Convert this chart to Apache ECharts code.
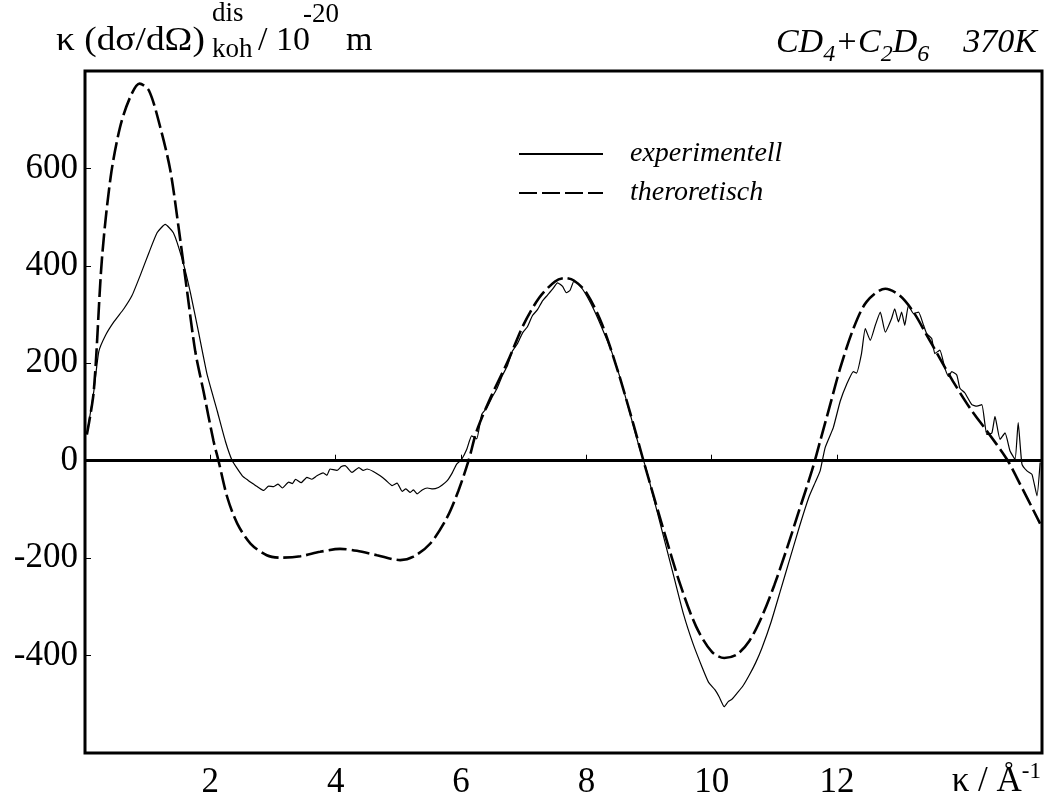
<!DOCTYPE html>
<html>
<head>
<meta charset="utf-8">
<script src="https://cdn.jsdelivr.net/npm/echarts@6/dist/echarts.min.js"></script>
<style>
  html, body { margin: 0; padding: 0; background: #fff; }
  #chart { width: 1047px; height: 800px; }
</style>
</head>
<body>
<div id="chart"></div>
<script>
// Scattering wave vector κ (Å^-1)
const kExp = [0.03, 0.14, 0.22, 0.33, 0.46, 0.62, 0.75, 0.88, 1.02, 1.15, 1.28, 1.41, 1.55, 1.68, 1.81, 1.95, 2.11, 2.24, 2.35,
  2.51, 2.60, 2.69, 2.77, 2.85, 2.93, 3.01, 3.08, 3.15, 3.25, 3.31, 3.36, 3.45, 3.54, 3.62, 3.70, 3.80, 3.86, 3.91, 4.02, 4.09,
  4.15, 4.26, 4.37, 4.44, 4.50, 4.60, 4.71, 4.80, 4.90, 4.98, 5.06, 5.12, 5.19, 5.24, 5.30, 5.38, 5.46, 5.55, 5.64, 5.70, 5.78,
  5.86, 5.93, 6.01, 6.09, 6.17, 6.25, 6.33, 6.41, 6.49, 6.58, 6.66, 6.74, 6.82, 6.90, 6.98, 7.06, 7.14, 7.22, 7.30, 7.38, 7.46,
  7.54, 7.62, 7.68, 7.74, 7.80, 7.86, 7.94, 8.02, 8.12, 8.25, 8.40, 8.55, 8.70, 8.85, 8.95, 9.10, 9.25, 9.40, 9.55, 9.70, 9.85,
  9.95, 10.05, 10.12, 10.20, 10.26, 10.32, 10.40, 10.50, 10.60, 10.70, 10.80, 10.95, 11.10, 11.25, 11.40, 11.55, 11.65, 11.73,
  11.81, 11.94, 12.05, 12.15, 12.26, 12.31, 12.39, 12.45, 12.53, 12.61, 12.69, 12.77, 12.87, 12.92, 12.98, 13.03, 13.08, 13.14,
  13.22, 13.30, 13.38, 13.43, 13.51, 13.56, 13.64, 13.72, 13.78, 13.83, 13.91, 13.96, 14.04, 14.15, 14.23, 14.31, 14.39, 14.47,
  14.52, 14.60, 14.68, 14.76, 14.84, 14.89, 14.95, 15.03, 15.11, 15.19, 15.24];
// experimentell: κ (dσ/dΩ) in 10^-20 m
const vExp = [54, 142, 224, 258, 285, 312, 339, 380, 427, 468, 485, 468, 414, 346, 265, 176, 102, 40, 0,
  -31, -40, -48, -55, -61, -52, -53, -48, -56, -44, -47, -38, -45, -34, -38, -31, -25, -30, -17, -20, -12,
  -10, -24, -14, -20, -17, -22, -31, -40, -51, -46, -63, -58, -65, -60, -68, -60, -56, -58, -55, -50, -41,
  -25, -7, 3, 23, 51, 45, 95, 108, 129, 150, 175, 195, 225, 240, 262, 275, 298, 310, 328, 340, 352,
  365, 358, 345, 350, 368, 365, 352, 335, 310, 272, 225, 165, 95, 25, -15, -90, -165, -240, -315, -375, -425,
  -455, -470, -485, -505, -495, -490, -478, -462, -440, -415, -385, -330, -265, -200, -135, -75, -45, -21,
  27, 68, 122, 156, 183, 180, 220, 271, 247, 278, 305, 264, 292, 312, 285, 305, 278, 319,
  302, 305, 278, 261, 251, 220, 227, 190, 173, 183, 176, 149, 139, 115, 112, 115, 54, 57,
  91, 44, 57, 20, 3, 78, -7, -21, -28, -72, -4];

const kTheo = [0.03, 0.14, 0.27, 0.41, 0.56, 0.72, 0.87, 1.02, 1.20, 1.36, 1.49, 1.63, 1.76, 1.89, 2.05, 2.13, 2.27, 2.43,
  2.64, 2.90, 3.12, 3.44, 3.75, 4.07, 4.34, 4.66, 5.03, 5.24, 5.51, 5.78, 5.96, 6.12, 6.25, 6.47, 6.75, 7.00, 7.25, 7.50,
  7.65, 7.80, 8.00, 8.25, 8.50, 8.75, 8.90, 9.00, 9.25, 9.50, 9.75, 10.00, 10.20, 10.40, 10.60, 10.80, 11.00, 11.20, 11.40,
  11.60, 11.73, 11.89, 12.05, 12.26, 12.47, 12.77, 13.00, 13.22, 13.43, 13.64, 13.85, 14.12, 14.39, 14.71, 14.92, 15.24];
// theroretisch: κ (dσ/dΩ) in 10^-20 m
const vTheo = [54, 143, 414, 583, 685, 746, 774, 760, 685, 597, 482, 347, 224, 143, 41, 0, -75, -129,
  -170, -194, -199, -196, -187, -181, -185, -194, -204, -197, -170, -116, -61, 0, 61, 129, 205, 280, 335, 368,
  375, 370, 345, 280, 185, 75, 5, -40, -150, -255, -340, -392, -405, -398, -370, -320, -255, -180, -100,
  -20, 40, 115, 190, 271, 326, 353, 339, 305, 258, 210, 163, 108, 61, 3, -48, -129];

const xTicks = [2, 4, 6, 8, 10, 12];
const yTicks = [-400, -200, 0, 200, 400, 600];
const seriesNames = ['experimentell', 'theroretisch'];

const serif = '"Liberation Serif", "DejaVu Serif", serif';
const pairs = (ks, vs) => ks.map((k, i) => [k, vs[i]]);

const chart = echarts.init(document.getElementById('chart'), null, { renderer: 'canvas' });

chart.setOption({
  backgroundColor: '#fff',
  animation: false,
  grid: {
    left: 85, right: 5, top: 71, bottom: 42,
    show: true, borderColor: '#000', borderWidth: 3, backgroundColor: 'transparent'
  },
  legend: {
    orient: 'vertical',
    left: 513, top: 135,
    itemWidth: 84, itemHeight: 14, itemGap: 11,
    itemStyle: { opacity: 0 },
    textStyle: { fontFamily: serif, fontStyle: 'italic', fontSize: 28, color: '#000', padding: [0, 0, 0, 22] },
    data: seriesNames
  },
  xAxis: {
    type: 'value', min: 0, max: 15.27, interval: 2,
    axisLine: { show: false },
    splitLine: { show: false },
    axisTick: { show: true, inside: true, length: 6, customValues: xTicks, lineStyle: { color: '#000', width: 1 } },
    axisLabel: { customValues: xTicks, fontFamily: serif, fontSize: 35, color: '#000', margin: 12 }
  },
  yAxis: {
    type: 'value', min: -600, max: 800, interval: 200,
    axisLine: { show: false },
    splitLine: { show: false },
    axisTick: { show: true, inside: true, length: 6, customValues: yTicks, lineStyle: { color: '#000', width: 1 } },
    axisLabel: { customValues: yTicks, fontFamily: serif, fontSize: 35, color: '#000', margin: 7 }
  },
  series: [
    {
      name: seriesNames[0], type: 'line', data: pairs(kExp, vExp),
      symbol: 'none', smooth: 0.15,
      lineStyle: { color: '#000', width: 1.2, type: 'solid' },
      itemStyle: { color: '#000' },
      markLine: {
        silent: true, symbol: 'none', label: { show: false },
        lineStyle: { color: '#000', width: 3, type: 'solid' },
        data: [{ yAxis: 0 }]
      },
      z: 3
    },
    {
      name: seriesNames[1], type: 'line', data: pairs(kTheo, vTheo),
      symbol: 'none', smooth: 0.3,
      lineStyle: { color: '#000', width: 2.6, type: [18, 5] },
      itemStyle: { color: '#000' },
      z: 2
    }
  ],
  graphic: [
    // y-axis quantity, written piecewise so that "dis" and "koh" stack
    { type: 'text', x: 56, y: 24, scaleX: 1.1, style: { text: 'κ (dσ/dΩ)', font: '34px ' + serif, fill: '#000' } },
    { type: 'text', x: 212, y: 0, style: { text: 'dis', font: '27px ' + serif, fill: '#000' } },
    { type: 'text', x: 212, y: 36, style: { text: 'koh', font: '27px ' + serif, fill: '#000' } },
    { type: 'text', x: 258, y: 24, style: { text: '/ 10', font: '34px ' + serif, fill: '#000' } },
    { type: 'text', x: 303, y: 1, style: { text: '-20', font: '27px ' + serif, fill: '#000' } },
    { type: 'text', x: 346, y: 24, style: { text: 'm', font: '34px ' + serif, fill: '#000' } },
    {
      type: 'text', right: 10, top: 19,
      style: {
        text: '{i|CD}{s|4}{i|+C}{s|2}{i|D}{s|6}{i|    370K}',
        fill: '#000',
        rich: {
          i: { fontFamily: serif, fontStyle: 'italic', fontSize: 34, lineHeight: 34, verticalAlign: 'middle' },
          s: { fontFamily: serif, fontStyle: 'italic', fontSize: 24, lineHeight: 24, padding: [24, 0, 0, 0], verticalAlign: 'middle' }
        }
      }
    },
    {
      type: 'text', right: 6, top: 760,
      style: {
        text: '{m|κ / Å}{p|-1}',
        fill: '#000',
        rich: {
          m: { fontFamily: serif, fontSize: 35, lineHeight: 35, verticalAlign: 'middle' },
          p: { fontFamily: serif, fontSize: 23, lineHeight: 23, padding: [0, 0, 20, 0], verticalAlign: 'middle' }
        }
      }
    }
  ]
});
</script>
</body>
</html>
